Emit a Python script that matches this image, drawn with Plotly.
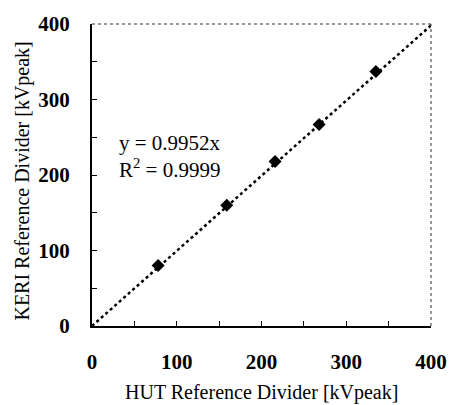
import plotly.graph_objects as go

hut_kv = [78, 159, 216, 268, 335]
keri_kv = [80, 160, 218, 267, 337]
slope = 0.9952
fit_x = [0, 400]
tick_vals = [0, 50, 100, 150, 200, 250, 300, 350, 400]
tick_text = ["0", "", "100", "", "200", "", "300", "", "400"]

fig = go.Figure()
fig.add_trace(go.Scatter(x=fit_x, y=[slope * v for v in fit_x], mode="lines",
                         line=dict(color="black", width=2.5, dash="dot"), showlegend=False))
fig.add_trace(go.Scatter(x=hut_kv, y=keri_kv, mode="markers",
                         marker=dict(symbol="diamond", size=10, color="black"), showlegend=False))

axis_common = dict(range=[0, 400], tickvals=tick_vals, ticktext=tick_text, ticks="inside",
                   ticklen=5, tickwidth=1, tickcolor="black", showgrid=False, zeroline=False,
                   showline=True, linecolor="black", linewidth=2, ticklabelstandoff=16,
                   tickfont=dict(family="Liberation Serif", size=21, color="black", weight="bold"))
fig.update_xaxes(**axis_common)
fig.update_yaxes(**axis_common)

fig.add_shape(type="line", xref="paper", yref="paper", x0=0, x1=1, y0=1, y1=1,
              line=dict(color="#333", width=1, dash="dot"))
fig.add_shape(type="line", xref="paper", yref="paper", x0=1, x1=1, y0=0, y1=1,
              line=dict(color="#333", width=1, dash="dot"))

title_font = dict(family="Liberation Serif", size=20, color="black")
fig.add_annotation(x=0.5, y=-0.22, xref="paper", yref="paper",
                   text="HUT Reference Divider [kVpeak]", showarrow=False,
                   xanchor="center", yanchor="middle", font=title_font)
fig.add_annotation(x=-0.205, y=0.48, xref="paper", yref="paper",
                   text="KERI Reference Divider [kVpeak]", showarrow=False, textangle=-90,
                   xanchor="center", yanchor="middle", font=title_font)

fig.add_annotation(x=30, y=200, xref="x", yref="y", text="y = 0.9952x<br>R<sup>2</sup> = 0.9999",
                   showarrow=False, xanchor="left", yanchor="bottom", align="left", yshift=-9,
                   font=dict(family="Liberation Serif", size=21, color="black"))

fig.update_layout(width=459, height=405, margin=dict(l=92, r=25, t=14, b=79),
                  plot_bgcolor="white", paper_bgcolor="white",
                  font=dict(family="Liberation Serif", color="black"))
fig.write_html("out.html")
